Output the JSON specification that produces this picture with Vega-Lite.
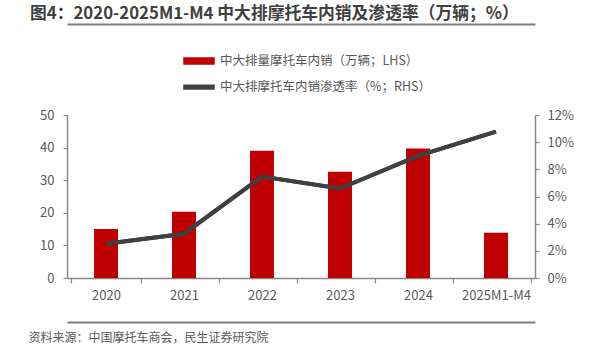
{
  "$schema": "https://vega.github.io/schema/vega-lite/v6.json",
  "width": 468,
  "height": 163,
  "autosize": {"type": "none"},
  "padding": {"left": 67, "top": 115, "right": 75, "bottom": 82},
  "background": "white",
  "config": {
    "font": "Noto Sans CJK SC",
    "view": {"stroke": null},
    "axis": {
      "labelColor": "#595959",
      "labelFontSize": 13,
      "domainColor": "#888888",
      "tickColor": "#888888",
      "domainWidth": 1.5,
      "tickWidth": 1.2,
      "grid": false
    }
  },
  "title": {
    "text": "图4：2020-2025M1-M4 中大排摩托车内销及渗透率（万辆；%）",
    "anchor": "start",
    "frame": "group",
    "dx": -37,
    "dy": 20,
    "fontSize": 16.8,
    "fontWeight": "bold",
    "color": "#404040",
    "baseline": "bottom",
    "offset": 4
  },
  "data": {
    "values": [
      {"year": "2020", "sales": 15.0, "rate": 0.0252},
      {"year": "2021", "sales": 20.3, "rate": 0.0326},
      {"year": "2022", "sales": 39.0, "rate": 0.0747},
      {"year": "2023", "sales": 32.6, "rate": 0.0659},
      {"year": "2024", "sales": 39.7, "rate": 0.0899},
      {"year": "2025M1-M4", "sales": 13.9, "rate": 0.1078}
    ]
  },
  "layer": [
    {
      "mark": {"type": "bar", "size": 24, "color": "#C00000"},
      "encoding": {
        "x": {
          "field": "year", "type": "ordinal", "sort": null,
          "axis": {
            "orient": "bottom", "labelAngle": 0, "tickBand": "extent", "tickSize": 5, "labelPadding": 6,
            "title": "资料来源：中国摩托车商会，民生证券研究院",
            "titleX": -39, "titleY": 59, "titleAlign": "left", "titleAnchor": "start", "titleBaseline": "middle",
            "titleFontWeight": "normal", "titleFontSize": 12, "titleColor": "#595959"
          }
        },
        "y": {
          "field": "sales", "type": "quantitative",
          "scale": {"domain": [0, 50]},
          "axis": {"values": [0, 10, 20, 30, 40, 50], "title": null, "tickSize": 4, "labelPadding": 9}
        },
        "color": {
          "datum": "中大排量摩托车内销（万辆；LHS）",
          "scale": {
            "domain": ["中大排量摩托车内销（万辆；LHS）", "中大排摩托车内销渗透率（%；RHS）"],
            "range": ["#C00000", "#404040"]
          },
          "legend": {
            "title": null,
            "orient": "none",
            "legendX": 118.5,
            "legendY": -67.5,
            "direction": "vertical",
            "padding": 0,
            "rowPadding": 6,
            "symbolSize": 625,
            "symbolType": "M-1.2,-0.24H1.2V0.24H-1.2Z",
            "labelOffset": 7.5,
            "labelFontSize": 12.5,
            "labelLimit": 400,
            "labelColor": "#595959",
            "encode": {
              "symbols": {
                "update": {
                  "shape": {"signal": "datum.value === '中大排量摩托车内销（万辆；LHS）' ? 'M-1.2,-0.24H1.2V0.24H-1.2Z' : 'M-1.2,-0.15H1.2V0.15H-1.2Z'"},
                  "fill": {"scale": "color", "field": "value"},
                  "stroke": {"value": "transparent"},
                  "opacity": {"value": 1},
                  "fillOpacity": {"value": 1}
                }
              }
            }
          }
        }
      }
    },
    {
      "mark": {"type": "line", "strokeWidth": 4},
      "encoding": {
        "x": {
          "field": "year", "type": "ordinal", "sort": null,
          "axis": {"orient": "top", "offset": 91, "labels": false, "ticks": false, "title": null, "domainColor": "#7f7f7f", "domainWidth": 2}
        },
        "y": {
          "field": "rate", "type": "quantitative",
          "scale": {"domain": [0, 0.12]},
          "axis": {"orient": "right", "format": ".0%", "values": [0, 0.02, 0.04, 0.06, 0.08, 0.1, 0.12], "title": null, "tickSize": 4, "labelPadding": 8}
        },
        "color": {"datum": "中大排摩托车内销渗透率（%；RHS）"}
      }
    },
    {
      "mark": {"type": "line", "strokeWidth": 4, "color": "#404040"},
      "encoding": {
        "x": {
          "field": "year", "type": "ordinal", "sort": null,
          "axis": {"orient": "bottom", "offset": 44, "labels": false, "ticks": false, "title": null, "domainColor": "#7f7f7f", "domainWidth": 2}
        },
        "y": {
          "field": "rate", "type": "quantitative",
          "scale": {"domain": [0, 0.12]},
          "axis": null
        }
      }
    }
  ],
  "resolve": {"scale": {"y": "independent"}, "axis": {"x": "independent"}}
}
